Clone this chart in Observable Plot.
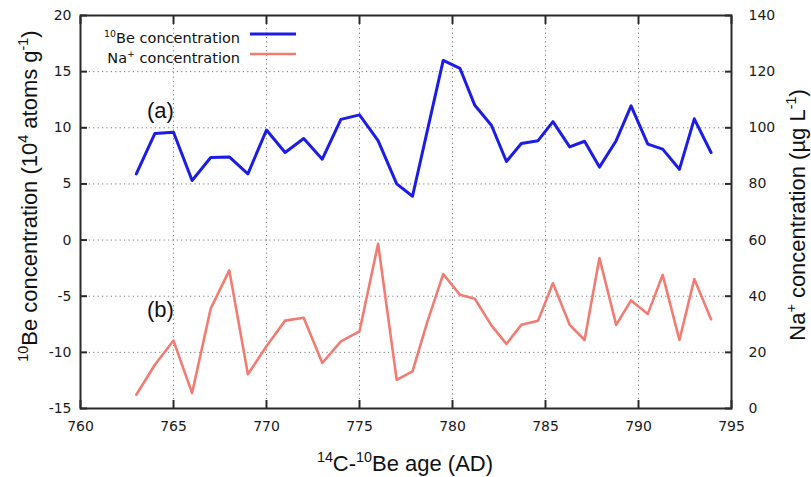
<!DOCTYPE html>
<html><head><meta charset="utf-8">
<script src="https://cdn.jsdelivr.net/npm/d3@7"></script>
<script src="https://cdn.jsdelivr.net/npm/@observablehq/plot@0.6"></script>
<style>body{margin:0;background:#fff}</style>
</head><body><div id="chart"></div>
<script>
// ---- data ----
const years = [763,764,765,766,767,768,769,770,771,772,773,774,775,776,777,777.85,778.66,779.5,780.4,781.2,782.1,782.9,783.7,784.6,785.4,786.3,787.1,787.9,788.8,789.6,790.5,791.3,792.2,793.0,793.9];
const be10 = [5.9,9.5,9.6,5.3,7.35,7.4,5.9,9.8,7.8,9.05,7.2,10.75,11.15,8.85,5.0,3.9,null,16.0,15.3,12.0,10.2,7.0,8.6,8.85,10.55,8.3,8.8,6.5,8.85,11.95,8.55,8.1,6.3,10.8,7.8];
const naConc = [4.9,15.6,24.2,5.5,35.6,49.2,12.2,22.2,31.3,32.3,16.2,23.9,27.5,58.7,10.2,13.2,31.1,47.9,40.5,39.1,29.5,23.0,29.8,31.3,44.6,29.8,24.4,53.6,29.8,38.5,33.7,47.6,24.4,46.1,31.8];
const xTicks = [760,765,770,775,780,785,790,795];
const beTicks = [-15,-10,-5,0,5,10,15,20];
const naTicks = [0,20,40,60,80,100,120,140];
const panelLabels = ["(a)","(b)"];
const panelX = [764.3,764.3];
const panelY = [11.5,-6.2];
const seriesNames = ["Be concentration","Na concentration"];

// right axis (Na, 0–140) shares the frame with left axis (-15–20)
const beDomain = [beTicks[0], beTicks[beTicks.length-1]];
const naDomain = [naTicks[0], naTicks[naTicks.length-1]];
const naToLeft = v => beDomain[0] + (v - naDomain[0]) * (beDomain[1]-beDomain[0]) / (naDomain[1]-naDomain[0]);

const beData = years.map((y,i)=>({year:y, value:be10[i]})).filter(d=>d.value!=null);
const naData = years.map((y,i)=>({year:y, value:naConc[i]}));
const labelData = panelLabels.map((t,i)=>({t, x:panelX[i], y:panelY[i]}));

const BLUE = "#1c1ce6", RED = "#f27c73", AX = "#2a2a2a";
const grid = {stroke:"#7a7a7a", strokeOpacity:1, strokeDasharray:"1.2,3.2", strokeWidth:1};

const plot = Plot.plot({
  width: 811, height: 477,
  marginLeft: 80, marginRight: 80, marginTop: 15, marginBottom: 69,
  x: {domain:[760,795], label:null},
  y: {domain:beDomain, label:null},
  style: {fontFamily:"DejaVu Sans", fontSize:"14px", color:"#1a1a1a", background:"#fff"},
  marks: [
    Plot.gridX(xTicks.slice(1,-1), grid),
    Plot.gridY(beTicks.slice(1,-1), grid),
    Plot.line(beData, {x:"year", y:"value", stroke:BLUE, strokeWidth:3}),
    Plot.line(naData, {x:"year", y:d=>naToLeft(d.value), stroke:RED, strokeWidth:2.6}),
    Plot.text(labelData, {x:"x", y:"y", text:"t", fontSize:22, fontFamily:"Liberation Sans", fill:"#111"}),
    Plot.frame({stroke:AX, strokeWidth:2}),
    Plot.axisX(xTicks, {anchor:"bottom", tickSize:-8, tickPadding:21, tickFormat:d=>String(d), stroke:AX, strokeWidth:2, label:null}),
    Plot.axisX(xTicks, {anchor:"top", tickSize:-8, tickFormat:()=>"", stroke:AX, strokeWidth:2, label:null}),
    Plot.axisY(beTicks, {anchor:"left", tickSize:-7, tickPadding:16, tickFormat:d=>String(d), stroke:AX, strokeWidth:2, label:null}),
    Plot.axisY(naTicks.map(naToLeft), {anchor:"right", tickSize:-7, tickPadding:24, tickFormat:(d,i)=>String(naTicks[i]), stroke:AX, strokeWidth:2, label:null})
  ]
});
document.getElementById("chart").appendChild(plot);

// ---- rich text (superscripts) for titles and legend ----
const svg = d3.select(plot);
function richText(parts, fs, family, anchor){
  const t = svg.append("text").attr("font-family",family).attr("font-size",fs)
    .attr("fill","#111").attr("text-anchor",anchor||"middle");
  let prevSup = false;
  parts.forEach(([s,sup])=>{
    const ts = t.append("tspan").text(s);
    if (sup) { ts.attr("font-size", fs*0.65).attr("dy", prevSup?0:-fs*0.42); }
    else { ts.attr("dy", prevSup? fs*0.42 : 0); }
    prevSup = sup;
  });
  return t;
}
const TF = "Liberation Sans";
richText([["14",true],["C-",false],["10",true],["Be age (AD)",false]], 22, TF)
  .attr("x",405).attr("y",471);
richText([["10",true],["Be concentration (10",false],["4",true],[" atoms g",false],["-1",true],[")",false]], 22, TF)
  .attr("transform","translate(37,196) rotate(-90)");
richText([["Na",false],["+",true],[" concentration (\u00b5g L",false],["-1",true],[")",false]], 22, TF)
  .attr("transform","translate(805,215) rotate(-90)");

// legend
richText([["10",true],[seriesNames[0],false]], 14.5, "DejaVu Sans", "end").attr("x",240).attr("y",43);
richText([["Na",false],["+",true],[" concentration",false]], 14.5, "DejaVu Sans", "end").attr("x",240).attr("y",63);
svg.append("line").attr("x1",250).attr("x2",296).attr("y1",34).attr("y2",34).attr("stroke",BLUE).attr("stroke-width",3);
svg.append("line").attr("x1",250).attr("x2",296).attr("y1",54).attr("y2",54).attr("stroke",RED).attr("stroke-width",2.6);
</script></body></html>
